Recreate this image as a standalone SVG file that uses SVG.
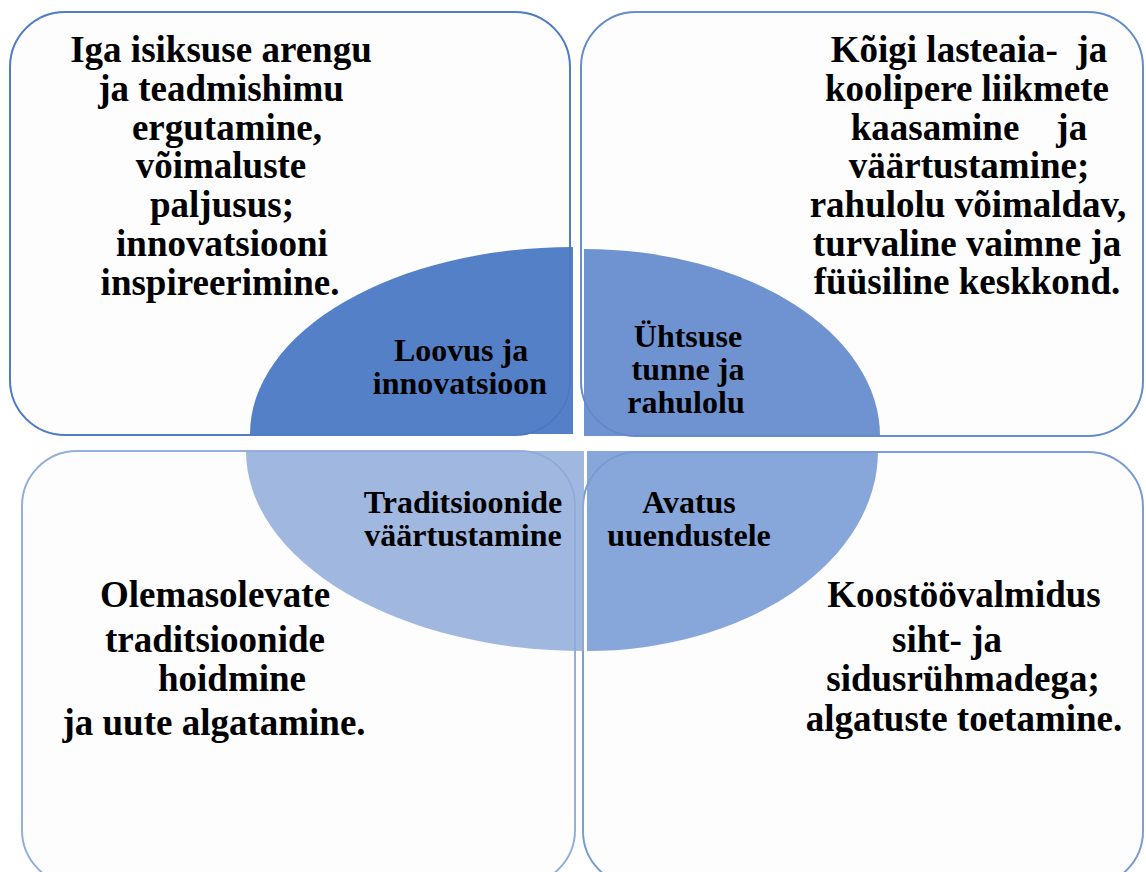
<svg xmlns="http://www.w3.org/2000/svg" width="1146" height="872" viewBox="0 0 1146 872">
<style>
.box{fill:#fdfdfd;stroke-width:2}
.ov{fill:none;stroke-width:1.5;opacity:0.35}
.body{font-family:"Liberation Serif","Times New Roman",serif;font-weight:bold;font-size:37px;fill:#000;text-anchor:middle}
.lab{font-family:"Liberation Serif","Times New Roman",serif;font-weight:bold;font-size:32px;fill:#000;text-anchor:middle}
</style>
<rect width="1146" height="872" fill="#ffffff"/>
<g id="box-tl"><rect class="box" x="10" y="12" width="560" height="423" rx="55" stroke="#5b86cc"/></g>
<g id="box-tr"><rect class="box" x="581" y="12" width="562" height="424" rx="55" stroke="#7398d4"/></g>
<g id="box-bl"><rect class="box" x="22" y="451" width="553" height="434" rx="55" stroke="#a6bde3"/></g>
<g id="box-br"><rect class="box" x="583" y="452" width="560" height="434" rx="55" stroke="#8aa8dc"/></g>

<g id="quad-tl"><path d="M573 434 L250 434 A323 187 0 0 1 573 247 Z" fill="#5480c8"/></g>
<g id="quad-tr"><path d="M584 436 L584 249 A296 187 0 0 1 880 436 Z" fill="#6f93d0"/></g>
<g id="quad-bl"><path d="M584 451 L246 451 A338 200 0 0 0 584 651 Z" fill="#a0b8e0"/></g>
<g id="quad-br"><path d="M587 451 L878 451 A291 200 0 0 1 587 651 Z" fill="#87a6da"/></g>

<g id="overlay">
<rect class="ov" x="10" y="12" width="560" height="423" rx="55" stroke="#3a66b4"/>
<rect class="ov" x="581" y="12" width="562" height="424" rx="55" stroke="#4a74bd"/>
<rect class="ov" x="22" y="451" width="553" height="434" rx="55" stroke="#6a8fcc"/>
<rect class="ov" x="583" y="452" width="560" height="434" rx="55" stroke="#5a80c4"/>
</g>

<g id="text-tl">
<text class="body" x="221" y="62">Iga isiksuse arengu</text>
<text class="body" x="221" y="101">ja teadmishimu</text>
<text class="body" x="227" y="140">ergutamine,</text>
<text class="body" x="221" y="178">võimaluste</text>
<text class="body" x="222" y="217">paljusus;</text>
<text class="body" x="222" y="256">innovatsiooni</text>
<text class="body" x="220" y="295">inspireerimine.</text>
</g>
<g id="text-tr">
<text class="body" x="969" y="62" xml:space="preserve">Kõigi lasteaia-  ja</text>
<text class="body" x="967" y="101">koolipere liikmete</text>
<text class="body" x="969" y="140" xml:space="preserve">kaasamine    ja</text>
<text class="body" x="969" y="178">väärtustamine;</text>
<text class="body" x="968" y="217">rahulolu võimaldav,</text>
<text class="body" x="967" y="256">turvaline vaimne ja</text>
<text class="body" x="967" y="294">füüsiline keskkond.</text>
</g>
<g id="text-bl">
<text class="body" x="215" y="607">Olemasolevate</text>
<text class="body" x="215" y="652">traditsioonide</text>
<text class="body" x="232" y="691">hoidmine</text>
<text class="body" x="214" y="735">ja uute algatamine.</text>
</g>
<g id="text-br">
<text class="body" x="964" y="607">Koostöövalmidus</text>
<text class="body" x="947" y="652">siht- ja</text>
<text class="body" x="963" y="691">sidusrühmadega;</text>
<text class="body" x="964" y="731">algatuste toetamine.</text>
</g>
<g id="labels">
<text class="lab" x="461" y="361">Loovus ja</text>
<text class="lab" x="460" y="394">innovatsioon</text>
<text class="lab" x="688" y="347">Ühtsuse</text>
<text class="lab" x="688" y="380">tunne ja</text>
<text class="lab" x="686" y="413">rahulolu</text>
<text class="lab" x="463" y="513">Traditsioonide</text>
<text class="lab" x="463" y="546">väärtustamine</text>
<text class="lab" x="689" y="513">Avatus</text>
<text class="lab" x="689" y="546">uuendustele</text>
</g>
</svg>
